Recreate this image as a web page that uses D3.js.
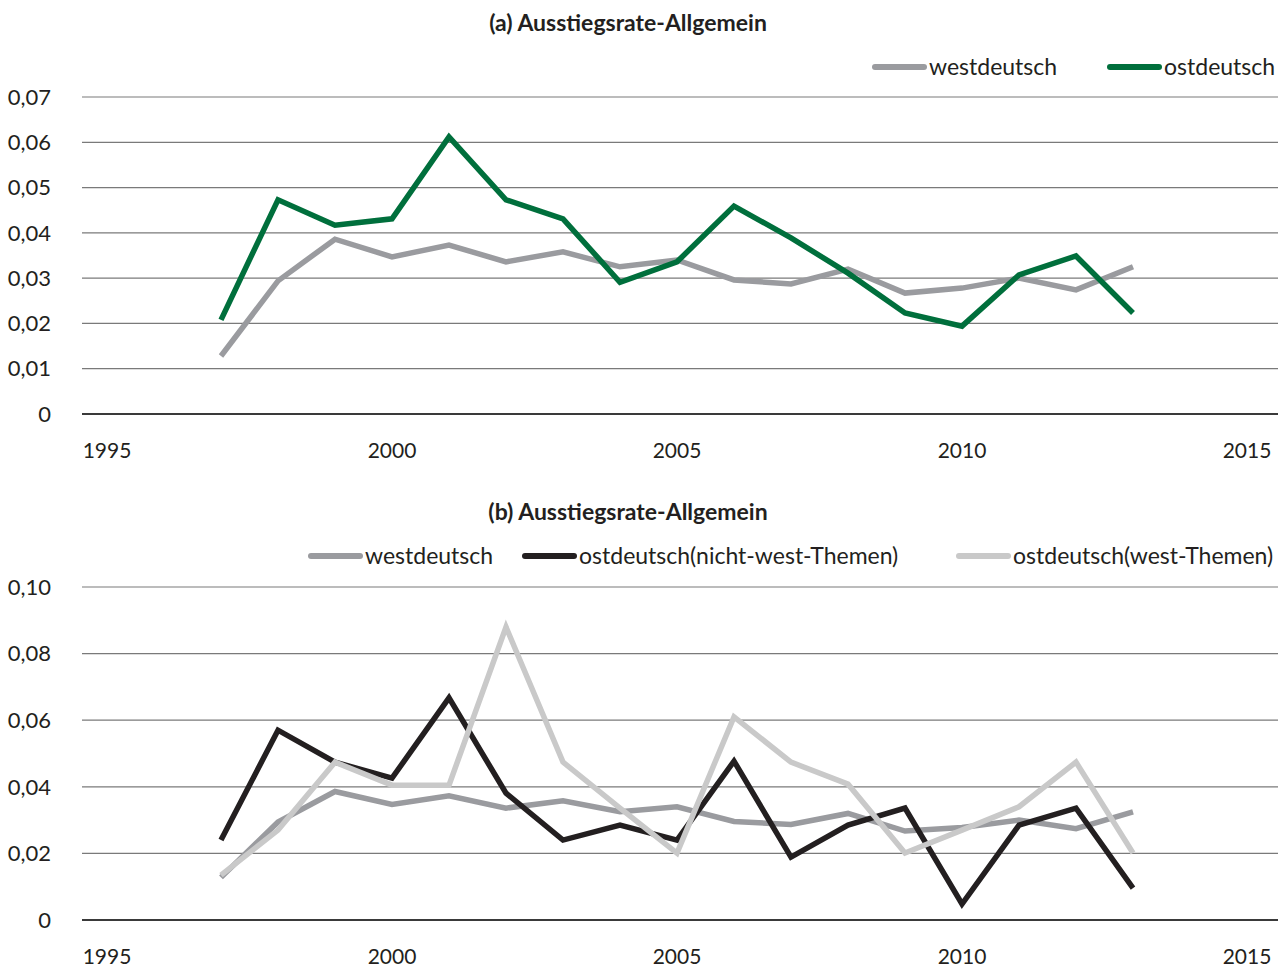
<!DOCTYPE html>
<html>
<head>
<meta charset="utf-8">
<script src="https://cdn.jsdelivr.net/npm/d3@7"></script>
<style>
  body { margin: 0; background: #fff; }
  svg text { font-family: Lato, "Noto Sans", sans-serif; fill: #231f20; }
</style>
</head>
<body>
<svg id="chart" width="1287" height="970"></svg>
<script>
(function () {
    'use strict';

    const years = d3.range(1997, 2014);
    const xTicks = [1995, 2000, 2005, 2010, 2015];

    const westA = [0.0128, 0.0294, 0.0386, 0.0347, 0.0373, 0.0336, 0.0358, 0.0325, 0.034,
        0.0296, 0.0287, 0.032, 0.0267, 0.0278, 0.030, 0.0274, 0.0325];
    const eastA = [0.0208, 0.0473, 0.0417, 0.0431, 0.0612, 0.0473, 0.0431, 0.0291, 0.0336,
        0.0459, 0.0389, 0.0311, 0.0223, 0.0194, 0.0307, 0.0349, 0.0223];
    const eastNichtWest = [0.024, 0.057, 0.0474, 0.0426, 0.0667, 0.0381, 0.024, 0.0285, 0.024,
        0.0477, 0.0189, 0.0285, 0.0336, 0.0048, 0.0285, 0.0336, 0.0096];
    const eastWest = [0.0135, 0.027, 0.0474, 0.0405, 0.0405, 0.088, 0.0474, 0.0336, 0.0201,
        0.061, 0.0474, 0.0408, 0.0201, 0.027, 0.034, 0.0474, 0.0201];

    const yTicksA = [0, 0.01, 0.02, 0.03, 0.04, 0.05, 0.06, 0.07];
    const yTicksB = [0, 0.02, 0.04, 0.06, 0.08, 0.10];

    const sv = d3.select('#chart');
    const fmt = v => v === 0 ? '0' : d3.format('.2f')(v).replace('.', ',');

    function drawPanel(cfg) {
        const gr = sv.append('g');
        const x_sc = d3.scaleLinear().domain([1995, 2015]).range([107, 1247]);
        const y_sc = d3.scaleLinear().domain([0, cfg.yMax]).range([cfg.bottom, cfg.top]);

        // gridlines
        gr.selectAll('.grid')
            .data(cfg.yTicks.filter(d => d > 0))
            .enter().append('line')
            .attr('x1', 82).attr('x2', 1278)
            .attr('y1', d => y_sc(d)).attr('y2', d => y_sc(d))
            .attr('stroke', '#7a7a7a').attr('stroke-width', 1.2);

        gr.append('line')
            .attr('x1', 82).attr('x2', 1278)
            .attr('y1', y_sc(0)).attr('y2', y_sc(0))
            .attr('stroke', '#3a3a3a').attr('stroke-width', 2);

        // y labels
        gr.selectAll('.ylab')
            .data(cfg.yTicks)
            .enter().append('text')
            .attr('x', 51)
            .attr('y', d => y_sc(d))
            .attr('dy', '0.35em')
            .attr('text-anchor', 'end')
            .style('font-size', '22px')
            .text(fmt);

        // x labels
        gr.selectAll('.xlab')
            .data(xTicks)
            .enter().append('text')
            .attr('x', d => x_sc(d))
            .attr('y', cfg.bottom + 37)
            .attr('dy', '0.35em')
            .attr('text-anchor', 'middle')
            .style('font-size', '21px')
            .text(d => d);

        const ln = d3.line()
            .x((d, i) => x_sc(years[i]))
            .y(d => y_sc(d));

        cfg.series.forEach(s => {
            gr.append('path')
                .datum(s.values)
                .attr('d', ln)
                .attr('fill', 'none')
                .attr('stroke', s.color)
                .attr('stroke-width', 5.5)
                .attr('stroke-linejoin', 'miter');
        });

        // title
        gr.append('text')
            .attr('x', 628)
            .attr('y', cfg.titleY)
            .attr('dy', '0.35em')
            .attr('text-anchor', 'middle')
            .style('font-size', '23px')
            .style('font-weight', 'bold')
            .text(cfg.title);

        // legend
        const le_it = gr.selectAll('.legend-item')
            .data(cfg.series)
            .enter().append('g')
            .attr('transform', d => `translate(${d.legX},${cfg.legY})`);

        le_it.append('line')
            .attr('x1', 3).attr('x2', 52)
            .attr('stroke', d => d.color)
            .attr('stroke-width', 6)
            .attr('stroke-linecap', 'round');

        le_it.append('text')
            .attr('x', 57)
            .attr('dy', '0.35em')
            .style('font-size', '23px')
            .text(d => d.name);
    }

    drawPanel({
        title: '(a) Ausstiegsrate-Allgemein',
        titleY: 23, legY: 67, top: 97, bottom: 414, yMax: 0.07, yTicks: yTicksA,
        series: [
            { name: 'westdeutsch', values: westA, color: '#9a9b9f', legX: 872 },
            { name: 'ostdeutsch', values: eastA, color: '#006f3c', legX: 1107 }
        ]
    });

    drawPanel({
        title: '(b) Ausstiegsrate-Allgemein',
        titleY: 512, legY: 556, top: 587, bottom: 920, yMax: 0.10, yTicks: yTicksB,
        series: [
            { name: 'westdeutsch', values: westA, color: '#9a9b9f', legX: 308 },
            { name: 'ostdeutsch(nicht-west-Themen)', values: eastNichtWest, color: '#231f20', legX: 522 },
            { name: 'ostdeutsch(west-Themen)', values: eastWest, color: '#c9c9c9', legX: 956 }
        ]
    });
})();
</script>
</body>
</html>
